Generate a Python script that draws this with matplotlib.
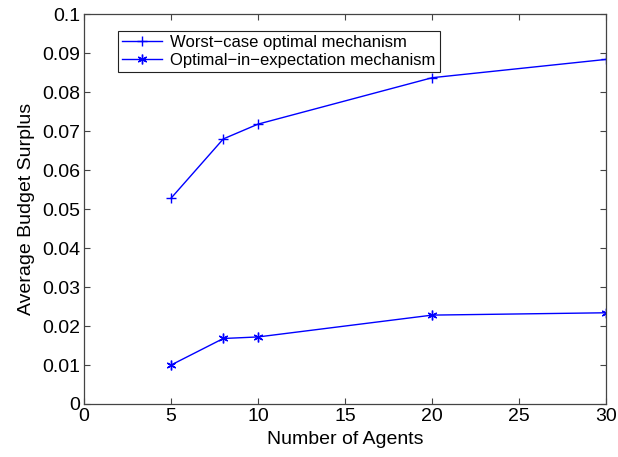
import matplotlib
matplotlib.use("Agg")
import matplotlib.pyplot as plt

# data
agents = [5, 8, 10, 20, 30]
worst_case = [0.0528, 0.0680, 0.0718, 0.0837, 0.0884]
optimal_expect = [0.0100, 0.0168, 0.0172, 0.0228, 0.0234]

x_ticks = [0, 5, 10, 15, 20, 25, 30]
y_ticks = [0, 0.01, 0.02, 0.03, 0.04, 0.05, 0.06, 0.07, 0.08, 0.09, 0.1]
y_labels = ["0", "0.01", "0.02", "0.03", "0.04", "0.05", "0.06", "0.07", "0.08", "0.09", "0.1"]

plt.rcParams["font.family"] = ["Liberation Sans", "DejaVu Sans"]

fig = plt.figure(figsize=(6.18, 4.57), dpi=100)
ax = fig.add_axes([0.136, 0.116, 0.845, 0.853])

# matlab style asterisk marker
asterisk = (6, 2, 0)
ax.plot(agents, worst_case, color="blue", marker="+", markersize=7, linewidth=1,
        label="Worst\u2212case optimal mechanism")
ax.plot(agents, optimal_expect, color="blue", marker=asterisk, markersize=7, linewidth=1,
        markeredgewidth=1, label="Optimal\u2212in\u2212expectation mechanism")

ax.set_xlim(0, 30)
ax.set_ylim(0, 0.1)
ax.set_xticks(x_ticks)
ax.set_xticklabels([str(t) for t in x_ticks])
ax.set_yticks(y_ticks)
ax.set_yticklabels(y_labels)
ax.tick_params(direction="in", top=True, right=True, labelsize=14, length=4,
               pad=3, color="#444444")
for spine in ax.spines.values():
    spine.set_color("#444444")
    spine.set_linewidth(0.9)

ax.set_xlabel("Number of Agents", fontsize=14, labelpad=4)
ax.set_ylabel("Average Budget Surplus", fontsize=14, labelpad=5)

leg = ax.legend(loc="upper left", bbox_to_anchor=(0.065, 0.957), fontsize=12,
                fancybox=False, framealpha=1, edgecolor="#222222",
                borderaxespad=0, handlelength=2.4, handletextpad=0.5,
                borderpad=0.25, labelspacing=0.15)
leg.get_frame().set_linewidth(0.8)

plt.savefig("out.png", dpi=100)
